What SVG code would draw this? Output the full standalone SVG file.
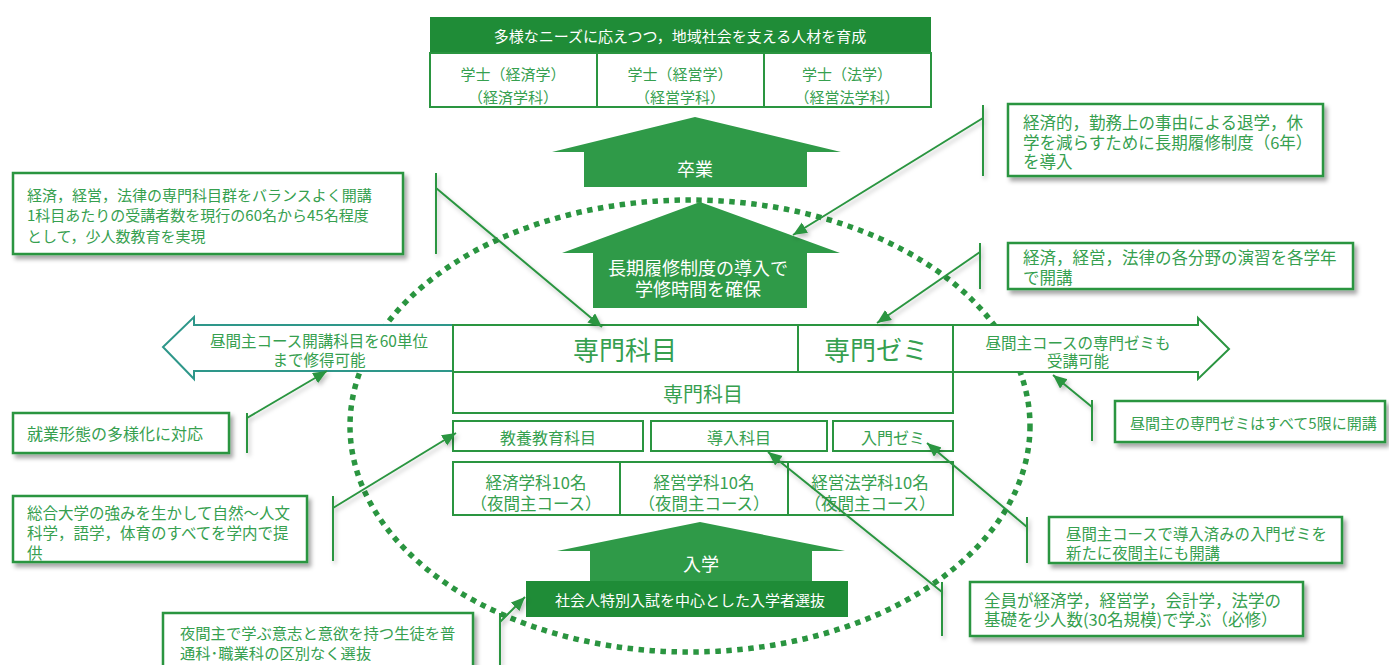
<svg xmlns="http://www.w3.org/2000/svg" width="1389" height="665" viewBox="0 0 1389 665">
<style>
.t{font-family:"Noto Sans CJK JP","Noto Sans",sans-serif;fill:#36a04f;dominant-baseline:central}
.w{fill:#ffffff}
.m{text-anchor:middle}
.cb{fill:#ffffff;stroke:#2a9540;stroke-width:2.5;filter:url(#sh)}
.bx{fill:#ffffff;stroke:#2a9540;stroke-width:2}
.ar{fill:#2f9a48}
.ln{stroke:#2a9540;stroke-width:2;fill:none}
</style>
<defs>
<filter id="sh" x="-10%" y="-20%" width="125%" height="150%">
<feDropShadow dx="3" dy="4" stdDeviation="2" flood-color="#000" flood-opacity="0.35"/>
</filter>
<filter id="sh2" filterUnits="userSpaceOnUse" x="0" y="0" width="1389" height="665">
<feDropShadow dx="2" dy="3" stdDeviation="2" flood-color="#000" flood-opacity="0.25"/>
</filter>
<marker id="ah" markerUnits="userSpaceOnUse" markerWidth="16" markerHeight="14" refX="14" refY="6" orient="auto">
<path d="M0,0 L14,6 L0,12 Z" fill="#2a9540"/>
</marker>
</defs>
<rect width="1389" height="665" fill="#ffffff"/>

<ellipse cx="690" cy="426" rx="340" ry="226" fill="none" stroke="#2a9540" stroke-width="5.5" stroke-dasharray="5.5 5.5"/>

<g id="goal">
<rect x="430" y="17" width="501" height="36" fill="#1f8c37"/>
<text class="t w m" x="680" y="35" font-size="15">多様なニーズに応えつつ，地域社会を支える人材を育成</text>
<rect class="bx" x="430" y="53" width="167" height="54" stroke-width="1.5"/>
<rect class="bx" x="597" y="53" width="167" height="54" stroke-width="1.5"/>
<rect class="bx" x="764" y="53" width="167" height="54" stroke-width="1.5"/>
<text class="t m" font-size="15"><tspan x="513" y="73">学士（経済学）</tspan><tspan x="513" y="96">（経済学科）</tspan></text>
<text class="t m" font-size="15"><tspan x="680" y="73">学士（経営学）</tspan><tspan x="680" y="96">（経営学科）</tspan></text>
<text class="t m" font-size="15"><tspan x="847" y="73">学士（法学）</tspan><tspan x="847" y="96">（経営法学科）</tspan></text>
</g>

<g id="graduation">
<polygon class="ar" points="695,117 841,152 807,152 807,187 584,187 584,152 552,152"/>
<text class="t w m" x="695" y="168" font-size="18">卒業</text>
</g>

<g id="longterm">
<polygon class="ar" points="700,202 840,253 807,253 807,308 593,308 593,253 562,253"/>
<text class="t w m" font-size="18"><tspan x="698" y="267">長期履修制度の導入で</tspan><tspan x="698" y="288">学修時間を確保</tspan></text>
</g>

<g id="left-arrow">
<polygon points="453,325 194,325 194,317 163,347 194,379 194,371 453,371" fill="#ffffff" stroke="#2e978a" stroke-width="2"/>
<text class="t m" font-size="15.5"><tspan x="319" y="340">昼間主コース開講科目を60単位</tspan><tspan x="319" y="359">まで修得可能</tspan></text>
</g>

<g id="right-arrow">
<polygon points="953,325 1198,325 1198,318 1229,349 1198,379 1198,372 953,372" fill="#ffffff" stroke="#2a9540" stroke-width="2"/>
<text class="t m" font-size="15.5"><tspan x="1078" y="342">昼間主コースの専門ゼミも</tspan><tspan x="1078" y="360">受講可能</tspan></text>
</g>

<g id="senmon-upper">
<rect class="bx" x="453" y="325" width="345" height="47"/>
<text class="t m" x="625" y="348" font-size="26">専門科目</text>
</g>
<g id="senmon-zemi">
<rect class="bx" x="798" y="325" width="155" height="47"/>
<text class="t m" x="876" y="348" font-size="26">専門ゼミ</text>
</g>
<g id="senmon-lower">
<rect class="bx" x="453" y="372" width="500" height="41"/>
<text class="t m" x="703" y="393" font-size="20">専門科目</text>
</g>
<g id="kyoyo">
<rect class="bx" x="453" y="421" width="190" height="30"/>
<text class="t m" x="548" y="437" font-size="16">教養教育科目</text>
</g>
<g id="donyu">
<rect class="bx" x="651" y="421" width="176" height="30"/>
<text class="t m" x="739" y="437" font-size="16">導入科目</text>
</g>
<g id="nyumon-zemi">
<rect class="bx" x="833" y="421" width="120" height="30"/>
<text class="t m" x="893" y="437" font-size="16">入門ゼミ</text>
</g>
<g id="students">
<rect class="bx" x="453" y="462" width="167" height="53"/>
<rect class="bx" x="620" y="462" width="168" height="53"/>
<rect class="bx" x="788" y="462" width="165" height="53"/>
<text class="t m" font-size="16.5"><tspan x="536" y="482">経済学科10名</tspan><tspan x="536" y="503">（夜間主コース）</tspan></text>
<text class="t m" font-size="16.5"><tspan x="704" y="482">経営学科10名</tspan><tspan x="704" y="503">（夜間主コース）</tspan></text>
<text class="t m" font-size="16.5"><tspan x="870" y="482">経営法学科10名</tspan><tspan x="870" y="503">（夜間主コース）</tspan></text>
</g>

<g id="admission">
<polygon class="ar" points="700,522 845,551 812,551 812,581 590,581 590,551 557,551"/>
<text class="t w m" x="701" y="563" font-size="18">入学</text>
<rect x="526" y="581" width="322" height="36" fill="#1f8c37"/>
<text class="t w m" x="690" y="599" font-size="15">社会人特別入試を中心とした入学者選抜</text>
</g>

<g id="connectors" filter="url(#sh2)">
<path class="ln" d="M436,173 V254"/>
<path class="ln" d="M436,188 L602,327" marker-end="url(#ah)"/>
<path class="ln" d="M983,105 V176"/>
<path class="ln" d="M983,118 L793,235" marker-end="url(#ah)"/>
<path class="ln" d="M980,243 V289"/>
<path class="ln" d="M980,252 L877,323" marker-end="url(#ah)"/>
<path class="ln" d="M247,413 V453"/>
<path class="ln" d="M247,418 L327,371" marker-end="url(#ah)"/>
<path class="ln" d="M1092,400 V441"/>
<path class="ln" d="M1092,407 L1053,375" marker-end="url(#ah)"/>
<path class="ln" d="M333,496 V561"/>
<path class="ln" d="M333,508 L456,433" marker-end="url(#ah)"/>
<path class="ln" d="M500,613 V665"/>
<path class="ln" d="M500,622 L525,597" marker-end="url(#ah)"/>
<path class="ln" d="M1027,517 V563"/>
<path class="ln" d="M1027,527 L927,443" marker-end="url(#ah)"/>
<path class="ln" d="M942,582 V636"/>
<path class="ln" d="M942,592 L768,452" marker-end="url(#ah)"/>
</g>

<g id="note-balance">
<rect class="cb" x="13" y="173" width="390" height="81"/>
<text class="t" font-size="15"><tspan x="27" y="194">経済，経営，法律の専門科目群をバランスよく開講</tspan><tspan x="27" y="214">1科目あたりの受講者数を現行の60名から45名程度</tspan><tspan x="27" y="235">として，少人数教育を実現</tspan></text>
</g>
<g id="note-longterm">
<rect class="cb" x="1008" y="104" width="315" height="72"/>
<text class="t" font-size="16.5"><tspan x="1023" y="122">経済的，勤務上の事由による退学，休</tspan><tspan x="1023" y="142">学を減らすために長期履修制度（6年）</tspan><tspan x="1023" y="161">を導入</tspan></text>
</g>
<g id="note-seminar">
<rect class="cb" x="1008" y="243" width="345" height="46"/>
<text class="t" font-size="16.5"><tspan x="1023" y="257">経済，経営，法律の各分野の演習を各学年</tspan><tspan x="1023" y="277">で開講</tspan></text>
</g>
<g id="note-work">
<rect class="cb" x="13" y="413" width="216" height="40"/>
<text class="t" x="27" y="433" font-size="16">就業形態の多様化に対応</text>
</g>
<g id="note-5th">
<rect class="cb" x="1115" y="401" width="270" height="41"/>
<text class="t" x="1130" y="422" font-size="15">昼間主の専門ゼミはすべて5限に開講</text>
</g>
<g id="note-general">
<rect class="cb" x="13" y="496" width="294" height="66"/>
<text class="t" font-size="15.5"><tspan x="27" y="512">総合大学の強みを生かして自然～人文</tspan><tspan x="27" y="532">科学，語学，体育のすべてを学内で提</tspan><tspan x="27" y="552">供</tspan></text>
</g>
<g id="note-select">
<rect class="cb" x="163" y="613" width="310" height="62"/>
<text class="t" font-size="15.3"><tspan x="180" y="632">夜間主で学ぶ意志と意欲を持つ生徒を普</tspan><tspan x="180" y="652">通科･職業科の区別なく選抜</tspan></text>
</g>
<g id="note-nyumon">
<rect class="cb" x="1049" y="517" width="293" height="46"/>
<text class="t" font-size="15.4"><tspan x="1066" y="533">昼間主コースで導入済みの入門ゼミを</tspan><tspan x="1066" y="552">新たに夜間主にも開講</tspan></text>
</g>
<g id="note-basic">
<rect class="cb" x="970" y="582" width="333" height="54"/>
<text class="t" font-size="16.5"><tspan x="984" y="600">全員が経済学，経営学，会計学，法学の</tspan><tspan x="984" y="619">基礎を少人数(30名規模)で学ぶ（必修）</tspan></text>
</g>
</svg>
